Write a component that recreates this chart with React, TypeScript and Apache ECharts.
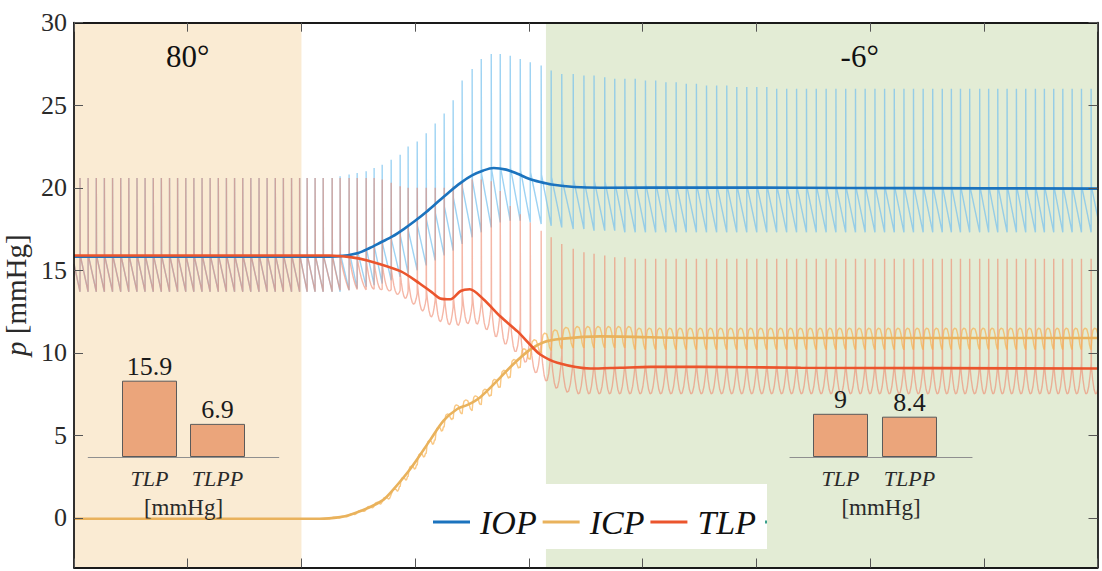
import React, { useEffect, useRef } from 'react';
import * as echarts from 'echarts';

const FONT = "'Liberation Serif', 'Times New Roman', Times, serif";

// ---------- axes ----------
const yTicks = [0, 5, 10, 15, 20, 25, 30];

// ---------- posture phases (x in axis units) ----------
const phases = [
  { label: '80°', from: 0, to: 2 },
  { label: '-6°', from: 4.15, to: 9 },
];

const seriesNames = ['IOP', 'ICP', 'TLP'];

// ---------- smoothed (mean) curves, [x, mmHg] ----------
const iopMean = [
  [0, 15.82], [1.99, 15.82], [2.34, 15.86], [2.5, 16.05], [2.6, 16.35], [2.7, 16.7],
  [2.8, 17.05], [2.9, 17.5], [3.0, 18.0], [3.1, 18.55], [3.2, 19.15], [3.3, 19.75],
  [3.4, 20.3], [3.5, 20.75], [3.6, 21.05], [3.69, 21.2], [3.8, 21.1], [3.9, 20.85],
  [4.0, 20.55], [4.1, 20.35], [4.2, 20.2], [4.4, 20.05], [4.63, 20.0], [5.51, 20.02],
  [6.39, 20.0], [7.27, 19.98], [9.0, 19.95],
];
const icpMean = [
  [0, -0.05], [2.16, -0.05], [2.34, 0.05], [2.43, 0.2], [2.6, 0.65], [2.72, 1.1],
  [2.78, 1.5], [2.96, 3.0], [3.13, 4.7], [3.25, 5.9], [3.37, 6.6], [3.46, 6.85],
  [3.57, 7.3], [3.72, 8.3], [3.86, 9.3], [4.01, 10.2], [4.13, 10.65], [4.28, 10.85],
  [4.63, 11.0], [5.51, 10.9], [9.0, 10.9],
];
const tlpMean = [
  [0, 15.9], [2.25, 15.9], [2.43, 15.8], [2.58, 15.6], [2.87, 14.95], [3.04, 14.2],
  [3.16, 13.6], [3.22, 13.3], [3.31, 13.25], [3.4, 13.75], [3.48, 13.85], [3.6, 13.25],
  [3.75, 12.2], [3.9, 11.3], [4.01, 10.5], [4.1, 9.9], [4.25, 9.4], [4.54, 9.05],
  [4.8, 9.1], [5.07, 9.15], [5.51, 9.15], [6.39, 9.1], [9.0, 9.05],
];

// ---------- raw pulsatile traces: one entry per heart beat ----------
const beatTimes = [
  0.053, 0.124, 0.196, 0.267, 0.339, 0.411, 0.482, 0.554, 0.625, 0.697, 0.768, 0.84, 0.911, 0.983,
  1.054, 1.126, 1.197, 1.269, 1.34, 1.412, 1.484, 1.555, 1.627, 1.698, 1.77, 1.841, 1.913, 1.984,
  2.05, 2.12, 2.191, 2.27, 2.34, 2.419, 2.49, 2.569, 2.639, 2.71, 2.789, 2.868, 2.938, 3.018,
  3.097, 3.176, 3.255, 3.334, 3.413, 3.501, 3.581, 3.669, 3.748, 3.836, 3.924, 4.012, 4.108, 4.196,
  4.289, 4.39, 4.484, 4.573, 4.667, 4.755, 4.844,
  4.935, 5.025, 5.115, 5.205, 5.295, 5.384, 5.473, 5.562, 5.651, 5.74, 5.828, 5.916, 6.004, 6.092,
  6.179, 6.267, 6.354, 6.441, 6.527, 6.614, 6.7, 6.786, 6.872, 6.957, 7.043, 7.128, 7.213, 7.298,
  7.382, 7.467, 7.551, 7.635,
  7.715, 7.795, 7.876, 7.964, 8.043, 8.123, 8.205, 8.287, 8.369, 8.454, 8.533, 8.615, 8.695, 8.777,
  8.859, 8.944,
];
const iopHi = [
  20.6, 20.6, 20.6, 20.6, 20.6, 20.6, 20.6, 20.6, 20.6, 20.6, 20.6, 20.6, 20.6, 20.6,
  20.6, 20.6, 20.6, 20.6, 20.6, 20.6, 20.6, 20.6, 20.6, 20.6, 20.6, 20.6, 20.6, 20.6,
  20.6, 20.6, 20.6, 20.6, 20.7, 20.8, 20.9, 21.0, 21.2, 21.4, 21.7, 22.0, 22.5, 22.8,
  23.3, 23.9, 24.5, 25.3, 26.5, 27.2, 27.8, 28.1, 28.1, 28.0, 27.8, 27.6, 27.4, 27.1,
  26.9, 26.9, 26.8, 26.8, 26.7, 26.6, 26.6,
  26.6, 26.5, 26.5, 26.4, 26.4, 26.3, 26.3, 26.2, 26.2, 26.2, 26.1, 26.1, 26.1, 26.1,
  26.0, 26.0, 26.0, 26.0, 26.0, 26.0, 26.0, 26.0, 26.0, 26.0, 26.0, 26.0, 26.0, 26.0,
  26.0, 26.0, 26.0, 26.0,
  26.0, 26.0, 26.0, 26.0, 26.0, 26.0, 26.0, 26.0, 26.0, 26.0, 26.0, 26.0, 26.0, 26.0,
  26.0, 26.0,
];
const iopLo = [
  13.7, 13.7, 13.7, 13.7, 13.7, 13.7, 13.7, 13.7, 13.7, 13.7, 13.7, 13.7, 13.7, 13.7,
  13.7, 13.7, 13.7, 13.7, 13.7, 13.7, 13.7, 13.7, 13.7, 13.7, 13.7, 13.7, 13.7, 13.7,
  13.7, 13.7, 13.7, 13.7, 13.8, 13.9, 14.0, 14.1, 14.2, 14.4, 14.6, 14.8, 15.0, 15.3,
  15.6, 15.9, 16.2, 16.6, 17.0, 17.3, 17.6, 17.9, 18.0, 18.0, 17.9, 17.8, 17.7, 17.6,
  17.5, 17.5, 17.4, 17.4, 17.4, 17.3, 17.3,
  17.3, 17.3, 17.3, 17.3, 17.3, 17.3, 17.3, 17.3, 17.3, 17.3, 17.3, 17.3, 17.3, 17.3,
  17.3, 17.3, 17.3, 17.3, 17.3, 17.3, 17.3, 17.3, 17.3, 17.3, 17.3, 17.3, 17.3, 17.3,
  17.3, 17.3, 17.3, 17.3,
  17.3, 17.3, 17.3, 17.3, 17.3, 17.3, 17.3, 17.3, 17.3, 17.3, 17.3, 17.3, 17.3, 17.3,
  17.3, 17.3,
];
const tlpHi = [
  20.6, 20.6, 20.6, 20.6, 20.6, 20.6, 20.6, 20.6, 20.6, 20.6, 20.6, 20.6, 20.6, 20.6,
  20.6, 20.6, 20.6, 20.6, 20.6, 20.6, 20.6, 20.6, 20.6, 20.6, 20.6, 20.6, 20.6, 20.6,
  20.6, 20.6, 20.6, 20.6, 20.6, 20.6, 20.6, 20.6, 20.6, 20.5, 20.3, 20.1, 20.0, 20.0,
  20.0, 20.0, 20.0, 20.1, 20.3, 20.5, 20.5, 20.4, 19.8, 18.9, 18.4, 17.9, 17.4, 17.0,
  16.6, 16.3, 16.1, 16.0, 15.9, 15.8, 15.8,
  15.7, 15.7, 15.7, 15.7, 15.7, 15.7, 15.7, 15.7, 15.7, 15.7, 15.7, 15.7, 15.7, 15.7,
  15.7, 15.7, 15.7, 15.7, 15.7, 15.7, 15.7, 15.7, 15.7, 15.7, 15.7, 15.7, 15.7, 15.7,
  15.7, 15.7, 15.7, 15.7,
  15.7, 15.7, 15.7, 15.7, 15.7, 15.7, 15.7, 15.7, 15.7, 15.7, 15.7, 15.7, 15.7, 15.7,
  15.7, 15.7,
];
const tlpLo = [
  13.7, 13.7, 13.7, 13.7, 13.7, 13.7, 13.7, 13.7, 13.7, 13.7, 13.7, 13.7, 13.7, 13.7,
  13.7, 13.7, 13.7, 13.7, 13.7, 13.7, 13.7, 13.7, 13.7, 13.7, 13.7, 13.7, 13.7, 13.7,
  13.7, 13.7, 13.7, 13.7, 13.6, 13.6, 13.5, 13.4, 13.3, 13.2, 13.0, 12.8, 12.5, 12.1,
  11.8, 11.5, 11.3, 11.3, 11.4, 11.4, 11.1, 10.7, 10.3, 9.9, 9.3, 8.7, 8.2, 7.8,
  7.6, 7.5, 7.5, 7.5, 7.5, 7.5, 7.5,
  7.5, 7.5, 7.5, 7.5, 7.5, 7.5, 7.5, 7.5, 7.5, 7.5, 7.5, 7.5, 7.5, 7.5,
  7.5, 7.5, 7.5, 7.5, 7.5, 7.5, 7.5, 7.5, 7.5, 7.5, 7.5, 7.5, 7.5, 7.5,
  7.5, 7.5, 7.5, 7.5,
  7.5, 7.5, 7.5, 7.5, 7.5, 7.5, 7.5, 7.5, 7.5, 7.5, 7.5, 7.5, 7.5, 7.5,
  7.5, 7.5,
];
const icpLo = [
  -0.05, -0.05, -0.05, -0.05, -0.05, -0.05, -0.05, -0.05, -0.05, -0.05, -0.05, -0.05, -0.05, -0.05,
  -0.05, -0.05, -0.05, -0.05, -0.05, -0.05, -0.05, -0.05, -0.05, -0.05, -0.05, -0.05, -0.05, -0.05,
  -0.05, -0.05, -0.05, 0.0, 0.0, 0.12, 0.28, 0.45, 0.65, 0.9, 1.3, 1.9, 2.5, 3.2,
  3.9, 4.7, 5.5, 6.0, 6.3, 6.5, 6.85, 7.4, 7.9, 8.5, 9.1, 9.6, 10.0, 10.15,
  10.25, 10.3, 10.3, 10.3, 10.3, 10.3, 10.3,
  10.2, 10.2, 10.2, 10.2, 10.2, 10.2, 10.2, 10.2, 10.2, 10.2, 10.2, 10.2, 10.2, 10.2,
  10.2, 10.2, 10.2, 10.2, 10.2, 10.2, 10.2, 10.2, 10.2, 10.2, 10.2, 10.2, 10.2, 10.2,
  10.2, 10.2, 10.2, 10.2,
  10.2, 10.2, 10.2, 10.2, 10.2, 10.2, 10.2, 10.2, 10.2, 10.2, 10.2, 10.2, 10.2, 10.2,
  10.2, 10.2,
];
const icpHi = [
  -0.05, -0.05, -0.05, -0.05, -0.05, -0.05, -0.05, -0.05, -0.05, -0.05, -0.05, -0.05, -0.05, -0.05,
  -0.05, -0.05, -0.05, -0.05, -0.05, -0.05, -0.05, -0.05, -0.05, -0.05, -0.05, -0.05, -0.05, -0.05,
  -0.05, -0.05, -0.05, 0.05, 0.1, 0.25, 0.45, 0.7, 0.95, 1.25, 1.75, 2.45, 3.15, 3.9,
  4.7, 5.5, 6.3, 6.85, 7.15, 7.4, 7.8, 8.4, 8.95, 9.6, 10.25, 10.8, 11.2, 11.4,
  11.55, 11.6, 11.6, 11.6, 11.6, 11.6, 11.6,
  11.5, 11.5, 11.5, 11.5, 11.5, 11.5, 11.5, 11.5, 11.5, 11.5, 11.5, 11.5, 11.5, 11.5,
  11.5, 11.5, 11.5, 11.5, 11.5, 11.5, 11.5, 11.5, 11.5, 11.5, 11.5, 11.5, 11.5, 11.5,
  11.5, 11.5, 11.5, 11.5,
  11.5, 11.5, 11.5, 11.5, 11.5, 11.5, 11.5, 11.5, 11.5, 11.5, 11.5, 11.5, 11.5, 11.5,
  11.5, 11.5,
];

// ---------- inset bar charts ----------
const insetCats = ['TLP', 'TLPP'];
const insetUpright = [15.9, 6.9];
const insetTilted = [9, 8.4];

// ---------- styles ----------
const C = {
  iop: '#1B73BE', icp: '#E9B25C', tlp: '#EB552D',
  iopRaw: '#75C0EE', icpRaw: '#F6B150', tlpRaw: '#EF876D',
  beige: '#FAEBD3', green: '#E3ECD5', bar: '#EBA57B',
};
const phaseColors = [C.beige, C.green];
const phaseLabelOffset = [[0, 13], [38, 13]];

// ---------- waveform builders (beat template applied to per-beat values) ----------
function span(k: number): [number, number] {
  const t = beatTimes[k];
  const nxt = k + 1 < beatTimes.length ? beatTimes[k + 1] : t + (t - beatTimes[k - 1]);
  return [t, nxt - t];
}

function pulseTrace(his: number[], los: number[], weights?: number[]) {
  const pts: number[][] = [];
  const S = [0.03, 0.15, 0.3, 0.45, 0.6, 0.75, 0.9];
  const shape = (k: number) => {
    const hi = his[k], lo = los[k];
    const w = weights ? weights[k] : 0;
    const frac = 0.32 - w * 0.12;
    const mid = lo + frac * (hi - lo);
    return (s: number) =>
      (1 - w) * (mid + ((lo - mid) * (s - 0.03)) / 0.97) +
      w * (lo + (mid - lo) * Math.pow((s - 0.5) / 0.47, 2));
  };
  pts.push([0, shape(0)(0.26)]);
  let prevEnd = shape(0)(1);
  for (let k = 0; k < beatTimes.length; k++) {
    const [t, T] = span(k);
    const f = shape(k);
    pts.push([t, k === 0 ? f(1) : prevEnd]);
    pts.push([t, his[k]]);
    for (const s of S) pts.push([t + s * T, f(s)]);
    prevEnd = f(1);
    if (k === beatTimes.length - 1) pts.push([t + T, prevEnd]);
  }
  return pts;
}

function archTrace(his: number[], los: number[]) {
  const pts: number[][] = [[0, los[0]]];
  for (let k = 0; k < beatTimes.length; k++) {
    const [t, T] = span(k);
    const lo = los[k], hi = his[k], a = hi - lo;
    const loN = k + 1 < los.length ? los[k + 1] : lo;
    pts.push(
      [t, lo], [t + 0.08 * T, lo + 0.55 * a], [t + 0.18 * T, lo + 0.9 * a], [t + 0.35 * T, hi],
      [t + 0.55 * T, hi - 0.05 * a], [t + 0.7 * T, lo + 0.7 * a],
      [t + 0.82 * T, (lo + loN) / 2 + 0.25 * a], [t + 0.93 * T, loN + 0.05 * a],
    );
    if (k === beatTimes.length - 1) pts.push([t + T, loN]);
  }
  return pts;
}

const tlpShapeWeight = icpHi.map((h, i) => Math.max(0, Math.min(1, (h - icpLo[i]) / 1.3)));

function buildOption() {
  const axisLine = { show: true, onZero: false, lineStyle: { color: '#1a1a1a', width: 1.8 } };
  const tick = { show: true, inside: true, length: 9, lineStyle: { color: '#555', width: 1 } };
  const mainX = (pos: string) => ({
    type: 'value', gridIndex: 0, min: 0, max: 9, interval: 1, position: pos, z: 4,
    axisLine, axisTick: tick, axisLabel: { show: false }, splitLine: { show: false },
  });
  const mainY = (pos: string, labels: boolean) => ({
    type: 'value', gridIndex: 0, min: -3, max: 30, position: pos, z: 4,
    axisLine, axisTick: { ...tick, customValues: yTicks },
    axisLabel: labels
      ? { show: true, customValues: yTicks, fontSize: 26, fontFamily: FONT, color: '#2a2a2a', margin: 7 }
      : { show: false },
    splitLine: { show: false },
    ...(labels
      ? {
          name: '{i|p} [mmHg]', nameLocation: 'middle', nameGap: 22,
          nameTextStyle: {
            fontSize: 29, fontFamily: FONT, color: '#2a2a2a',
            rich: { i: { fontStyle: 'italic', fontSize: 29, fontFamily: FONT, color: '#2a2a2a' } },
          },
        }
      : {}),
  });
  const insetX = (gi: number, min: number, max: number) => ({
    type: 'value', gridIndex: gi, min, max, z: 4,
    axisLine: { show: true, onZero: false, lineStyle: { color: '#8f8f8f', width: 1.2 } },
    axisTick: { show: true, inside: true, length: 3, customValues: [1, 2], lineStyle: { color: '#8f8f8f' } },
    axisLabel: {
      show: true, customValues: [1, 2], formatter: (v: number) => insetCats[Math.round(v) - 1] || '',
      fontSize: 22, fontStyle: 'italic', fontFamily: FONT, color: '#2a2a2a', margin: 10,
    },
    splitLine: { show: false },
    name: '[mmHg]', nameLocation: 'middle', nameGap: 39,
    nameTextStyle: { fontSize: 23, fontFamily: FONT, color: '#2a2a2a' },
  });
  const insetY = (gi: number) => ({ type: 'value', gridIndex: gi, min: 0, max: 20, show: false });
  const barSeries = (idx: number, vals: number[]) => ({
    type: 'bar', xAxisIndex: idx, yAxisIndex: idx, barWidth: 55, silent: true, z: 5,
    data: vals.map((v, i) => [i + 1, v]),
    itemStyle: { color: C.bar, borderColor: '#5a5a5a', borderWidth: 1 },
    label: {
      show: true, position: 'top', distance: 1, fontSize: 26, fontFamily: FONT, color: '#1a1a1a',
      formatter: (p: any) => String(p.value[1]),
    },
  });
  const raw = (name: string, data: number[][], color: string, op: number) => ({
    type: 'line', name, data, showSymbol: false, silent: true, z: 2,
    lineStyle: { color, width: 1.4, opacity: op }, color,
  });
  const mean = (name: string, data: number[][], color: string) => ({
    type: 'line', name, data, showSymbol: false, smooth: 0.3, silent: true, z: 3,
    lineStyle: { color, width: 2.6 }, itemStyle: { color }, color,
  });

  return {
    animation: false,
    backgroundColor: '#ffffff',
    textStyle: { fontFamily: FONT },
    grid: [
      { left: 74, right: 4.5, top: 22.7, bottom: 3.5, outerBoundsMode: 'none', containLabel: false },
      { left: 88.3, top: 361, width: 190.4, height: 96, outerBoundsMode: 'none', containLabel: false },
      { left: 790, top: 361, width: 182, height: 96, outerBoundsMode: 'none', containLabel: false },
    ],
    xAxis: [mainX('bottom'), mainX('top'), insetX(1, 0.1, 2.9), insetX(2, 0.268, 2.906)],
    yAxis: [mainY('left', true), mainY('right', false), insetY(1), insetY(2)],
    legend: {
      data: seriesNames, left: 433, top: 505, padding: 0, itemWidth: 37, itemHeight: 3, itemGap: 6,
      icon: 'rect', z: 7, selectedMode: false,
      textStyle: { fontFamily: FONT, fontStyle: 'italic', fontSize: 34, color: '#111', padding: [0, 0, 0, 5] },
    },
    graphic: [
      { type: 'rect', shape: { x: 415, y: 484, width: 352, height: 65 }, style: { fill: '#ffffff' }, z: 6, silent: true },
      { type: 'rect', shape: { x: 765, y: 520.5, width: 2, height: 3 }, style: { fill: '#3aa08c' }, z: 7, silent: true },
    ],
    series: [
      {
        type: 'line', name: 'phases', data: [[0, 0]], z: 1, silent: true, showSymbol: false,
        lineStyle: { opacity: 0 },
        markArea: {
          silent: true,
          data: phases.map((p, i) => [
            {
              xAxis: p.from, name: p.label, itemStyle: { color: phaseColors[i] },
              label: {
                show: true, position: 'insideTop', formatter: '{b}', offset: phaseLabelOffset[i],
                fontSize: 31, fontFamily: FONT, color: '#111',
              },
            },
            { xAxis: p.to },
          ]),
        },
      },
      raw('IOP raw', pulseTrace(iopHi, iopLo), C.iopRaw, 0.7),
      raw('TLP raw', pulseTrace(tlpHi, tlpLo, tlpShapeWeight), C.tlpRaw, 0.6),
      raw('ICP raw', archTrace(icpHi, icpLo), C.icpRaw, 0.7),
      mean('ICP', icpMean, C.icp),
      mean('IOP', iopMean, C.iop),
      mean('TLP', tlpMean, C.tlp),
      barSeries(2, insetUpright),
      barSeries(3, insetTilted),
    ],
  };
}

export default function App() {
  const ref = useRef<HTMLDivElement>(null);
  useEffect(() => {
    if (!ref.current) return;
    const chart = echarts.init(ref.current, null, { renderer: 'svg' });
    chart.setOption(buildOption() as any);
    return () => chart.dispose();
  }, []);
  return (
    <div
      ref={ref}
      style={{ position: 'fixed', left: 0, top: 0, width: 1102, height: 571, background: '#fff' }}
    />
  );
}
